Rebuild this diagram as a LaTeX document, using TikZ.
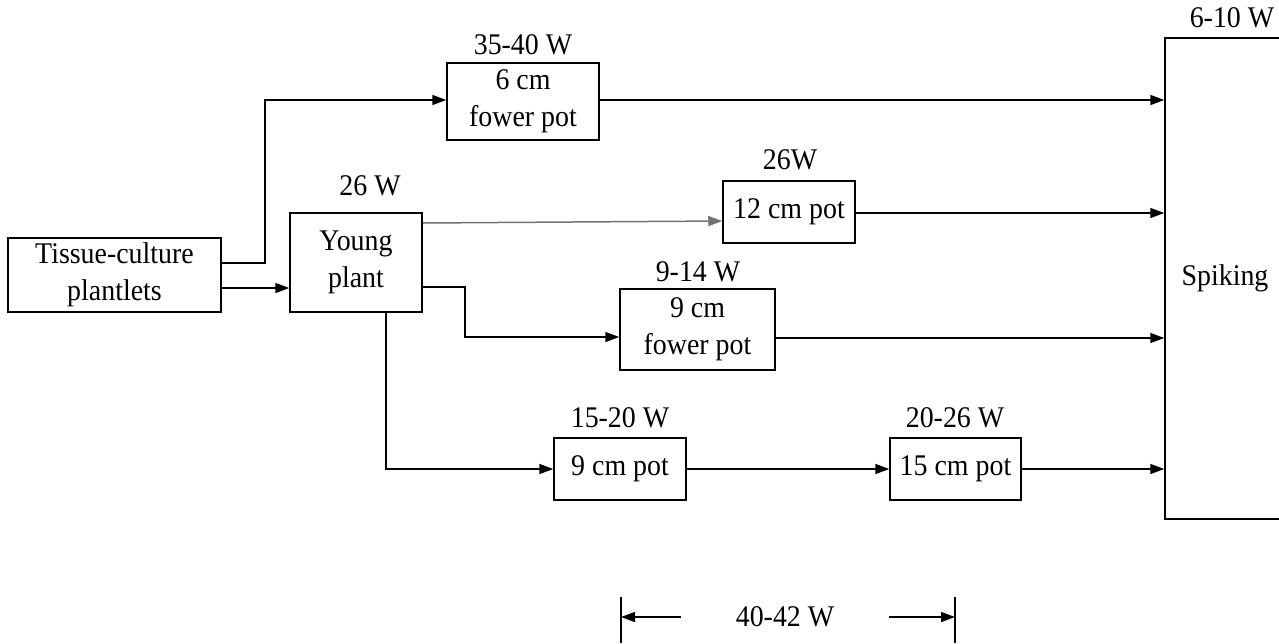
\documentclass[tikz,border=0pt]{standalone}
\usepackage{fontspec}
\setmainfont{Liberation Serif}[FakeStretch=0.93]
\usetikzlibrary{arrows.meta}
\begin{document}
\begin{tikzpicture}[x=1pt,y=-1pt,
  box/.style={draw, line width=1.5pt, inner sep=0pt, align=center, font=\fontsize{30}{37}\selectfont},
  lab/.style={inner sep=0pt, font=\fontsize{30}{34}\selectfont},
  conn/.style={line width=1.5pt, -{Triangle[length=14pt,width=10pt]}},
  plain/.style={line width=1.5pt}]
\useasboundingbox (0,0) rectangle (1279,643);
% boxes
\node[box, minimum width=213, minimum height=74] (tc) at (114.5,275) {Tissue-culture\\plantlets};
\node[box, minimum width=132, minimum height=99] (yp) at (356,262.5) {Young\\plant};
\node[box, minimum width=152, minimum height=77] (p6) at (523,101.5) {6 cm\\fower pot};
\node[box, minimum width=132, minimum height=62] (p12) at (789,212) {12 cm pot};
\node[box, minimum width=155, minimum height=81] (p9f) at (697.5,329.5) {9 cm\\fower pot};
\node[box, minimum width=132, minimum height=62] (p9p) at (620,469) {9 cm pot};
\node[box, minimum width=131, minimum height=62] (p15) at (955.5,469) {15 cm pot};
\node[box, minimum width=120, minimum height=481] (spk) at (1225,278.5) {Spiking};
% labels
\node[lab] (l610) at (1232,18) {6-10 W};
\node[lab] (l3540) at (523,45) {35-40 W};
\node[lab] (l26a) at (370,186) {26 W};
\node[lab] (l26b) at (790,160) {26W};
\node[lab] (l914) at (698,272) {9-14 W};
\node[lab] (l1520) at (620,418) {15-20 W};
\node[lab] (l2026) at (955,418) {20-26 W};
\node[lab] (dim) at (785,617) {40-42 W};
% connectors
\draw[conn] (tc.east |- 0,263) -- ++(43,0) |- (p6.west |- 0,100);
\draw[conn] (tc.east |- 0,288) -- (yp.west |- 0,288);
\draw[conn] (p6.east |- 0,100) -- (spk.west |- 0,100);
\draw[conn, draw=black!55] (yp.east |- 0,223) -- (p12.west |- 0,221);
\draw[conn] (p12.east |- 0,213) -- (spk.west |- 0,213);
\draw[conn] (yp.east |- 0,287) -- ++(42,0) |- (p9f.west |- 0,337);
\draw[conn] (p9f.east |- 0,338) -- (spk.west |- 0,338);
\draw[conn] (386,0 |- yp.south) |- (p9p.west |- 0,469);
\draw[conn] (p9p.east) -- (p15.west);
\draw[conn] (p15.east) -- (spk.west |- p15.east);
% dimension
\coordinate (dL1) at (621,597);
\coordinate (dL2) at (621,643);
\coordinate (dR1) at (955,597);
\coordinate (dR2) at (955,643);
\draw[plain] (dL1) -- (dL2);
\draw[plain] (dR1) -- (dR2);
\draw[conn] ([xshift=-55pt]dim.west) -- (dL1 |- dim.west);
\draw[conn] ([xshift=55pt]dim.east) -- (dR1 |- dim.east);
\end{tikzpicture}
\end{document}
